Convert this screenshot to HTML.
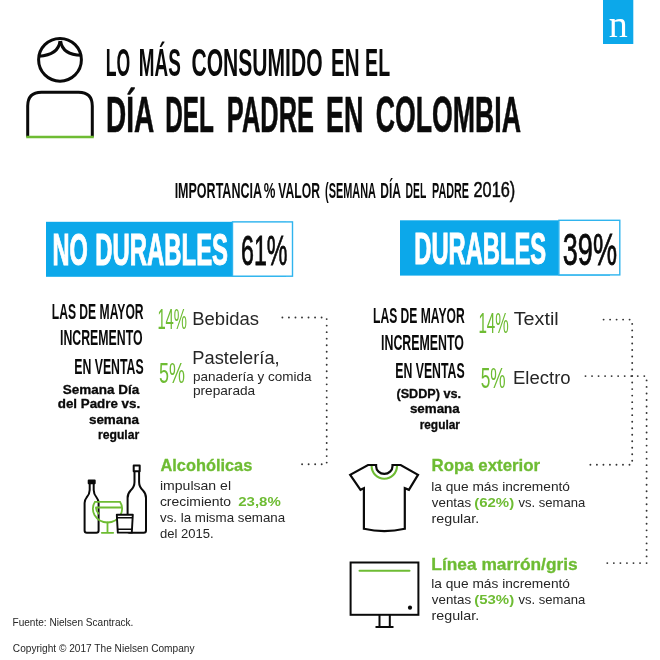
<!DOCTYPE html>
<html lang="es"><head><meta charset="utf-8"><title>Lo más consumido en el Día del Padre en Colombia</title>
<style>
html,body{margin:0;padding:0;background:#fff}
body{width:660px;height:660px;overflow:hidden;font-family:"Liberation Sans",sans-serif}
svg{display:block}
text{white-space:pre;font-family:"Liberation Sans",sans-serif}
text.serif{font-family:"Liberation Serif",serif}
</style></head><body>
<svg width="660" height="660" viewBox="0 0 660 660">
<rect width="660" height="660" fill="#fff"/>
<rect x="603" y="0" width="30.3" height="44" fill="#0ca8ea"/>
<text x="618.3" y="36.7" text-anchor="middle" class="serif" font-size="38" fill="#fff">n</text>
<g fill="none" stroke="#0a0a0a" stroke-width="3"><circle cx="60" cy="59.8" r="21.4"/><path d="M60,41 Q58.5,55 38.8,56.2"/><path d="M60.6,41 Q62.5,55 81.4,55.2"/><path d="M27.7,137 V106 Q27.7,92.2 41.5,92.2 H78.5 Q92.3,92.2 92.3,106 V137"/></g>
<path d="M26.2,137 H93.8" stroke="#6ebc33" stroke-width="2.4" fill="none"/>
<rect x="46" y="221.8" width="240" height="55" fill="#0ca8ea"/>
<rect x="232.5" y="221.9" width="60" height="54.3" fill="#fff" stroke="#2fb4ee" stroke-width="1.4"/>
<rect x="400" y="220.3" width="210" height="55.3" fill="#0ca8ea"/>
<rect x="558.9" y="220.3" width="60.9" height="54.6" fill="#fff" stroke="#2fb4ee" stroke-width="1.4"/>
<path d="M282.4,317.5 L321.9,317.5" stroke="#333" stroke-width="1.9" stroke-linecap="round" stroke-dasharray="0 6.533" fill="none"/>
<path d="M326.7,319.1 L326.7,462.9" stroke="#333" stroke-width="1.9" stroke-linecap="round" stroke-dasharray="0 6.523" fill="none"/>
<path d="M302.1,464.2 L322.0,464.2" stroke="#333" stroke-width="1.9" stroke-linecap="round" stroke-dasharray="0 6.533" fill="none"/>
<path d="M603.6,319.6 L629.9,319.6" stroke="#333" stroke-width="1.9" stroke-linecap="round" stroke-dasharray="0 6.500" fill="none"/>
<path d="M632.2,323.9 L632.2,461.1" stroke="#333" stroke-width="1.9" stroke-linecap="round" stroke-dasharray="0 6.519" fill="none"/>
<path d="M590.4,464.8 L629.8,464.8" stroke="#333" stroke-width="1.9" stroke-linecap="round" stroke-dasharray="0 6.517" fill="none"/>
<path d="M585.5,376.1 L644.6,376.1" stroke="#333" stroke-width="1.9" stroke-linecap="round" stroke-dasharray="0 6.533" fill="none"/>
<path d="M646.6,380.4 L646.6,556.7" stroke="#333" stroke-width="1.9" stroke-linecap="round" stroke-dasharray="0 6.519" fill="none"/>
<path d="M607.3,563.1 L646.9,563.1" stroke="#333" stroke-width="1.9" stroke-linecap="round" stroke-dasharray="0 6.550" fill="none"/>
<g fill="none" stroke="#0a0a0a" stroke-width="2" stroke-linejoin="round"><rect x="88.7" y="480.5" width="6" height="2.8" fill="#0a0a0a"/><path d="M89.7,483.5 V490 Q89.7,494 86.6,497.5 Q84.6,500 84.6,503 V530.5 Q84.6,532.8 86.9,532.8 H96.3 Q98.6,532.8 98.6,530.5 V503 Q98.6,500 96.6,497.5 Q93.7,494 93.7,490 V483.5"/><rect x="133.7" y="465.5" width="6" height="5.8"/><path d="M134.5,471.5 V482 Q134.5,487 130.6,490.5 Q127.6,493.5 127.6,498 V530.5 Q127.6,532.8 129.9,532.8 H143.7 Q146,532.8 146,530.5 V498 Q146,493.5 143,490.5 Q139.1,487 139.1,482 V471.5"/></g>
<g fill="none" stroke="#6ebc33" stroke-width="1.8" stroke-linecap="round"><path d="M95,501.8 H120 Q124,508 120.5,515 Q116,522.5 107.5,522.5 Q99,522.5 94.5,515 Q91,508 95,501.8 Z"/><path d="M96,507.5 H121.5 M96,507.5 Q96,511 98.5,513.5"/><path d="M107.5,522.5 V532.8 M101.8,532.8 H113.2"/></g>
<path d="M116.8,514.8 H132.8 L131.8,532.6 H117.8 Z" fill="#fff" stroke="#0a0a0a" stroke-width="1.9" stroke-linejoin="round"/>
<path d="M117,517.8 H132.6 M117.6,529.3 H132" fill="none" stroke="#0a0a0a" stroke-width="1.5"/>
<path d="M368,465 H376.1 V466.2 A8.2,7.6 0 0 0 392.5,466.2 V465 H400.7 L418,474.8 L408.9,489.8 L404.8,488.2 V528.8 Q384.3,533.5 363.9,528.8 V488.2 L360.5,489.8 L350.2,474.8 Z" fill="none" stroke="#0a0a0a" stroke-width="2.2" stroke-linejoin="miter"/>
<path d="M371.6,466 A12.7,12.7 0 0 0 397,466" fill="none" stroke="#6ebc33" stroke-width="2.1"/>
<g fill="none" stroke="#0a0a0a" stroke-width="2"><rect x="350.6" y="562.5" width="67.8" height="52.3"/><path d="M379.5,614.8 V627 M389.8,614.8 V627 M375.5,627 H393.5"/></g>
<path d="M359.5,570.7 H409.5" stroke="#6ebc33" stroke-width="2" stroke-linecap="round"/>
<circle cx="410" cy="607.7" r="2.1" fill="#0a0a0a"/>
<text x="105.67" y="75.6" font-size="37.94" font-weight="bold" fill="#0a0a0a" textLength="24.50" lengthAdjust="spacingAndGlyphs">LO</text>
<text x="138.75" y="75.6" font-size="37.94" font-weight="bold" fill="#0a0a0a" textLength="41.99" lengthAdjust="spacingAndGlyphs">MÁS</text>
<text x="191.53" y="75.6" font-size="37.94" font-weight="bold" fill="#0a0a0a" textLength="131.03" lengthAdjust="spacingAndGlyphs">CONSUMIDO</text>
<text x="331.10" y="75.6" font-size="37.94" font-weight="bold" fill="#0a0a0a" textLength="28.56" lengthAdjust="spacingAndGlyphs">EN</text>
<text x="365.11" y="75.6" font-size="37.94" font-weight="bold" fill="#0a0a0a" textLength="25.00" lengthAdjust="spacingAndGlyphs">EL</text>
<text x="105.96" y="131.5" font-size="49.57" font-weight="bold" fill="#0a0a0a" stroke="#0a0a0a" stroke-width="0.6" textLength="48.18" lengthAdjust="spacingAndGlyphs">DÍA</text>
<text x="165.15" y="131.5" font-size="49.57" font-weight="bold" fill="#0a0a0a" stroke="#0a0a0a" stroke-width="0.6" textLength="48.71" lengthAdjust="spacingAndGlyphs">DEL</text>
<text x="226.86" y="131.5" font-size="49.57" font-weight="bold" fill="#0a0a0a" stroke="#0a0a0a" stroke-width="0.6" textLength="87.14" lengthAdjust="spacingAndGlyphs">PADRE</text>
<text x="326.06" y="131.5" font-size="49.57" font-weight="bold" fill="#0a0a0a" stroke="#0a0a0a" stroke-width="0.6" textLength="37.35" lengthAdjust="spacingAndGlyphs">EN</text>
<text x="375.63" y="131.5" font-size="49.57" font-weight="bold" fill="#0a0a0a" stroke="#0a0a0a" stroke-width="0.6" textLength="145.35" lengthAdjust="spacingAndGlyphs">COLOMBIA</text>
<text x="174.63" y="197.6" font-size="21.95" font-weight="bold" fill="#0a0a0a" textLength="87.34" lengthAdjust="spacingAndGlyphs">IMPORTANCIA</text>
<text x="263.71" y="197.6" font-size="21.95" font-weight="bold" fill="#0a0a0a" textLength="11.65" lengthAdjust="spacingAndGlyphs">%</text>
<text x="278.30" y="197.6" font-size="21.95" font-weight="bold" fill="#0a0a0a" textLength="41.66" lengthAdjust="spacingAndGlyphs">VALOR</text>
<text x="325.04" y="197.6" font-size="21.95" font-weight="bold" fill="#0a0a0a" textLength="50.91" lengthAdjust="spacingAndGlyphs">(SEMANA</text>
<text x="380.19" y="197.6" font-size="21.95" font-weight="bold" fill="#0a0a0a" textLength="20.79" lengthAdjust="spacingAndGlyphs">DÍA</text>
<text x="405.56" y="197.6" font-size="21.95" font-weight="bold" fill="#0a0a0a" textLength="20.70" lengthAdjust="spacingAndGlyphs">DEL</text>
<text x="432.08" y="197.6" font-size="21.95" font-weight="bold" fill="#0a0a0a" textLength="36.98" lengthAdjust="spacingAndGlyphs">PADRE</text>
<text x="473.50" y="197.3" font-size="21.22" font-weight="normal" fill="#0a0a0a" stroke="#0a0a0a" stroke-width="0.5" textLength="41.78" lengthAdjust="spacingAndGlyphs">2016)</text>
<text x="52.60" y="264.9" font-size="43.75" font-weight="bold" fill="#ffffff" stroke="#ffffff" stroke-width="1.1" textLength="35.28" lengthAdjust="spacingAndGlyphs">NO</text>
<text x="95.32" y="264.9" font-size="43.75" font-weight="bold" fill="#ffffff" stroke="#ffffff" stroke-width="1.1" textLength="132.74" lengthAdjust="spacingAndGlyphs">DURABLES</text>
<text x="240.99" y="265.1" font-size="43.32" font-weight="normal" fill="#0a0a0a" stroke="#0a0a0a" stroke-width="0.8" textLength="46.56" lengthAdjust="spacingAndGlyphs">61%</text>
<text x="414.23" y="263.6" font-size="43.75" font-weight="bold" fill="#ffffff" stroke="#ffffff" stroke-width="1.1" textLength="131.96" lengthAdjust="spacingAndGlyphs">DURABLES</text>
<text x="562.76" y="265.2" font-size="43.61" font-weight="normal" fill="#0a0a0a" stroke="#0a0a0a" stroke-width="0.8" textLength="54.24" lengthAdjust="spacingAndGlyphs">39%</text>
<text x="51.74" y="319.2" font-size="21.95" font-weight="bold" fill="#0a0a0a" textLength="91.84" lengthAdjust="spacingAndGlyphs">LAS DE MAYOR</text>
<text x="60.06" y="345.0" font-size="22.09" font-weight="bold" fill="#0a0a0a" textLength="82.48" lengthAdjust="spacingAndGlyphs">INCREMENTO</text>
<text x="74.19" y="373.8" font-size="22.09" font-weight="bold" fill="#0a0a0a" textLength="69.48" lengthAdjust="spacingAndGlyphs">EN VENTAS</text>
<text x="62.78" y="393.8" font-size="11.86" font-weight="bold" fill="#0a0a0a" stroke="#0a0a0a" stroke-width="0.3" textLength="76.45" lengthAdjust="spacingAndGlyphs">Semana Día</text>
<text x="57.78" y="408.2" font-size="11.86" font-weight="bold" fill="#0a0a0a" stroke="#0a0a0a" stroke-width="0.3" textLength="82.41" lengthAdjust="spacingAndGlyphs">del Padre vs.</text>
<text x="88.92" y="424.4" font-size="11.86" font-weight="bold" fill="#0a0a0a" stroke="#0a0a0a" stroke-width="0.3" textLength="50.11" lengthAdjust="spacingAndGlyphs">semana</text>
<text x="97.99" y="439.1" font-size="11.86" font-weight="bold" fill="#0a0a0a" stroke="#0a0a0a" stroke-width="0.3" textLength="41.25" lengthAdjust="spacingAndGlyphs">regular</text>
<text x="157.38" y="329.1" font-size="29.07" font-weight="normal" fill="#6ebc33" textLength="29.67" lengthAdjust="spacingAndGlyphs">14%</text>
<text x="192.25" y="325.0" font-size="17.5" font-weight="normal" fill="#262626" textLength="66.84" lengthAdjust="spacingAndGlyphs">Bebidas</text>
<text x="159.11" y="382.7" font-size="28.63" font-weight="normal" fill="#6ebc33" textLength="25.96" lengthAdjust="spacingAndGlyphs">5%</text>
<text x="192.35" y="363.8" font-size="17.5" font-weight="normal" fill="#262626" textLength="87.32" lengthAdjust="spacingAndGlyphs">Pastelería,</text>
<text x="192.96" y="381.0" font-size="13.4" font-weight="normal" fill="#262626" textLength="118.44" lengthAdjust="spacingAndGlyphs">panadería y comida</text>
<text x="192.91" y="394.6" font-size="13.4" font-weight="normal" fill="#262626" textLength="62.28" lengthAdjust="spacingAndGlyphs">preparada</text>
<text x="160.42" y="470.6" font-size="15.96" font-weight="bold" fill="#6ebc33" stroke="#6ebc33" stroke-width="0.3" textLength="91.94" lengthAdjust="spacingAndGlyphs">Alcohólicas</text>
<text x="159.94" y="490.0" font-size="13.4" font-weight="normal" fill="#262626" textLength="71.09" lengthAdjust="spacingAndGlyphs">impulsan el</text>
<text x="159.91" y="505.9" font-size="13.4" font-weight="normal" fill="#262626" textLength="71.18" lengthAdjust="spacingAndGlyphs">crecimiento</text>
<text x="238.21" y="505.9" font-size="13.5" font-weight="bold" fill="#6ebc33" textLength="42.53" lengthAdjust="spacingAndGlyphs">23,8%</text>
<text x="160.01" y="521.8" font-size="13.4" font-weight="normal" fill="#262626" textLength="125.18" lengthAdjust="spacingAndGlyphs">vs. la misma semana</text>
<text x="160.04" y="537.7" font-size="13.4" font-weight="normal" fill="#262626" textLength="53.70" lengthAdjust="spacingAndGlyphs">del 2015.</text>
<text x="373.05" y="323.2" font-size="21.95" font-weight="bold" fill="#0a0a0a" textLength="91.68" lengthAdjust="spacingAndGlyphs">LAS DE MAYOR</text>
<text x="381.06" y="349.7" font-size="21.95" font-weight="bold" fill="#0a0a0a" textLength="82.81" lengthAdjust="spacingAndGlyphs">INCREMENTO</text>
<text x="395.19" y="377.5" font-size="22.09" font-weight="bold" fill="#0a0a0a" textLength="69.48" lengthAdjust="spacingAndGlyphs">EN VENTAS</text>
<text x="396.43" y="398.2" font-size="11.86" font-weight="bold" fill="#0a0a0a" stroke="#0a0a0a" stroke-width="0.3" textLength="64.55" lengthAdjust="spacingAndGlyphs">(SDDP) vs.</text>
<text x="409.95" y="413.1" font-size="11.86" font-weight="bold" fill="#0a0a0a" stroke="#0a0a0a" stroke-width="0.3" textLength="49.75" lengthAdjust="spacingAndGlyphs">semana</text>
<text x="419.65" y="428.9" font-size="11.86" font-weight="bold" fill="#0a0a0a" stroke="#0a0a0a" stroke-width="0.3" textLength="40.30" lengthAdjust="spacingAndGlyphs">regular</text>
<text x="478.40" y="332.8" font-size="29.07" font-weight="normal" fill="#6ebc33" textLength="30.34" lengthAdjust="spacingAndGlyphs">14%</text>
<text x="513.66" y="325.1" font-size="17.5" font-weight="normal" fill="#262626" textLength="45.05" lengthAdjust="spacingAndGlyphs">Textil</text>
<text x="480.72" y="387.9" font-size="28.63" font-weight="normal" fill="#6ebc33" textLength="24.93" lengthAdjust="spacingAndGlyphs">5%</text>
<text x="512.97" y="383.7" font-size="17.5" font-weight="normal" fill="#262626" textLength="57.65" lengthAdjust="spacingAndGlyphs">Electro</text>
<text x="431.46" y="470.9" font-size="15.96" font-weight="bold" fill="#6ebc33" stroke="#6ebc33" stroke-width="0.3" textLength="108.66" lengthAdjust="spacingAndGlyphs">Ropa exterior</text>
<text x="431.22" y="490.5" font-size="13.4" font-weight="normal" fill="#262626" textLength="138.79" lengthAdjust="spacingAndGlyphs">la que más incrementó</text>
<text x="431.82" y="507.0" font-size="13.4" font-weight="normal" fill="#262626" textLength="39.23" lengthAdjust="spacingAndGlyphs">ventas</text>
<text x="474.24" y="507.0" font-size="13.3" font-weight="bold" fill="#6ebc33" textLength="39.95" lengthAdjust="spacingAndGlyphs">(62%)</text>
<text x="518.46" y="507.0" font-size="13.4" font-weight="normal" fill="#262626" textLength="66.73" lengthAdjust="spacingAndGlyphs">vs. semana</text>
<text x="431.54" y="522.9" font-size="13.4" font-weight="normal" fill="#262626" textLength="47.63" lengthAdjust="spacingAndGlyphs">regular.</text>
<text x="431.37" y="569.9" font-size="15.96" font-weight="bold" fill="#6ebc33" stroke="#6ebc33" stroke-width="0.3" textLength="146.34" lengthAdjust="spacingAndGlyphs">Línea marrón/gris</text>
<text x="431.22" y="588.2" font-size="13.4" font-weight="normal" fill="#262626" textLength="138.79" lengthAdjust="spacingAndGlyphs">la que más incrementó</text>
<text x="431.82" y="603.6" font-size="13.4" font-weight="normal" fill="#262626" textLength="39.23" lengthAdjust="spacingAndGlyphs">ventas</text>
<text x="474.24" y="603.6" font-size="13.3" font-weight="bold" fill="#6ebc33" textLength="39.95" lengthAdjust="spacingAndGlyphs">(53%)</text>
<text x="518.46" y="603.6" font-size="13.4" font-weight="normal" fill="#262626" textLength="66.73" lengthAdjust="spacingAndGlyphs">vs. semana</text>
<text x="431.54" y="619.6" font-size="13.4" font-weight="normal" fill="#262626" textLength="47.63" lengthAdjust="spacingAndGlyphs">regular.</text>
<text x="12.52" y="626.2" font-size="10.2" font-weight="normal" fill="#262626" textLength="120.84" lengthAdjust="spacingAndGlyphs">Fuente: Nielsen Scantrack.</text>
<text x="12.83" y="651.8" font-size="10.2" font-weight="normal" fill="#262626" textLength="181.65" lengthAdjust="spacingAndGlyphs">Copyright © 2017 The Nielsen Company</text>
</svg>
</body></html>
